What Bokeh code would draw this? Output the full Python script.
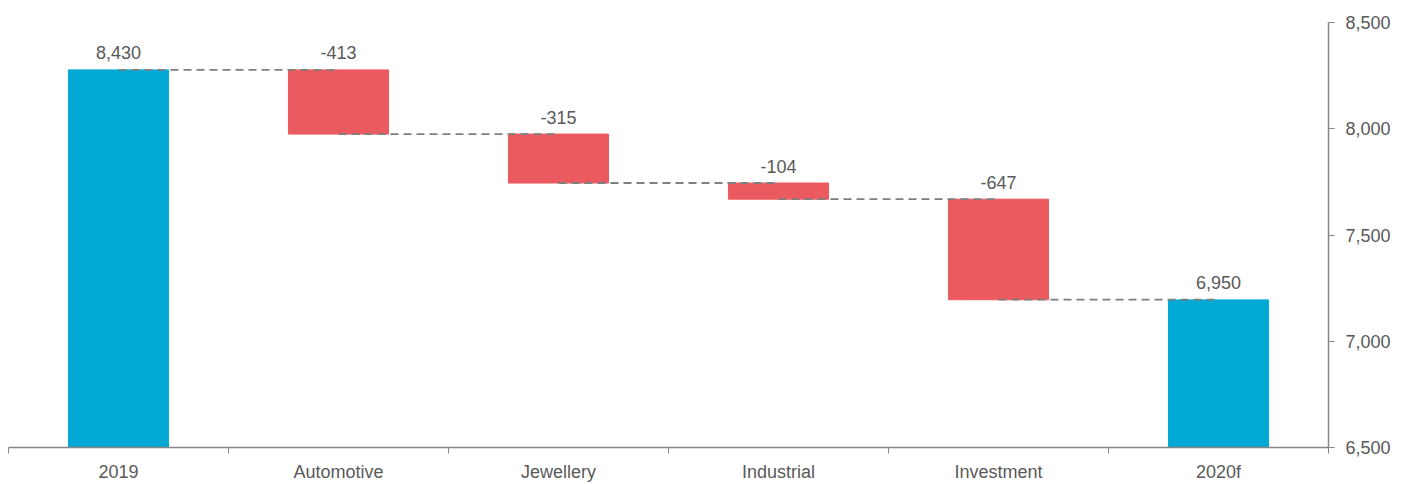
import numpy as np
from bokeh.plotting import figure
from bokeh.models import Range1d, LinearAxis, FixedTicker, NumeralTickFormatter, ColumnDataSource
from bokeh.core.properties import value
from bokeh.embed import file_html
from bokeh.resources import INLINE

# ---- data ----
categories = ["2019", "Automotive", "Jewellery", "Industrial", "Investment", "2020f"]
start_total = 8430
changes = [-413, -315, -104, -647]
end_total = 6950
axis_ticks = [6500, 7000, 7500, 8000, 8500]

BLUE = "#03A9D5"
RED = "#EB5A5F"
GREEN = "#70AD47"
GRAY_TXT = "#595959"
GRAY_AX = "#868686"
FONT = "Liberation Sans"

n = len(categories)
xs = np.arange(n) + 0.5

tops, bottoms, colors, labels = [], [], [], []
level = start_total
tops.append(start_total); bottoms.append(0); colors.append(BLUE); labels.append(f"{start_total:,}")
levels = [level]
for c in changes:
    new = level + c
    tops.append(max(level, new)); bottoms.append(min(level, new))
    colors.append(RED if c < 0 else GREEN); labels.append(f"{c:,}")
    level = new
    levels.append(level)
tops.append(end_total); bottoms.append(0); colors.append(BLUE); labels.append(f"{end_total:,}")

src = ColumnDataSource(dict(x=xs, top=tops, bottom=bottoms, color=colors, label=labels))
con = ColumnDataSource(dict(x0=xs[:-1], x1=xs[1:], y=levels))

p = figure(width=1410, height=484, output_backend="svg", toolbar_location=None,
           x_range=Range1d(0, n), y_range=Range1d(6000, 8735),
           y_axis_location=None, min_border_left=8, min_border_right=82,
           min_border_top=22, min_border_bottom=35)
p.extra_y_ranges = {"sec": Range1d(axis_ticks[0], axis_ticks[-1])}
p.outline_line_color = None
p.xgrid.visible = False
p.ygrid.visible = False
p.background_fill_color = "white"
p.border_fill_color = "white"

p.vbar(x="x", top="top", bottom="bottom", width=0.455, color="color", source=src)
p.segment(x0="x0", x1="x1", y0="y", y1="y", source=con, line_color="#7F7F7F",
          line_width=1.8, line_dash="8 5")
p.text(x="x", y="top", text="label", source=src, text_align="center",
       text_baseline="alphabetic", y_offset=-17, text_font=value(FONT),
       text_font_size="18px", text_color=GRAY_TXT)

xa = p.xaxis[0]
xa.ticker = FixedTicker(ticks=list(xs), minor_ticks=list(range(n + 1)))
xa.major_label_overrides = {float(x): c for x, c in zip(xs, categories)}
xa.major_tick_out = 0
xa.major_tick_in = 0
xa.minor_tick_out = 6
xa.minor_tick_in = 0
xa.minor_tick_line_color = GRAY_AX
xa.axis_line_color = GRAY_AX
xa.axis_line_width = 1.5
xa.major_label_standoff = 8
xa.major_label_text_font = FONT
xa.major_label_text_font_size = "18px"
xa.major_label_text_color = GRAY_TXT

ya = LinearAxis(y_range_name="sec", ticker=FixedTicker(ticks=axis_ticks),
                formatter=NumeralTickFormatter(format="0,0"))
ya.major_tick_out = 6
ya.major_tick_in = 0
ya.minor_tick_out = 0
ya.minor_tick_in = 0
ya.major_tick_line_color = GRAY_AX
ya.axis_line_color = GRAY_AX
ya.axis_line_width = 1.5
ya.major_label_standoff = 11
ya.major_label_text_font = FONT
ya.major_label_text_font_size = "18px"
ya.major_label_text_color = GRAY_TXT
p.add_layout(ya, "right")

open("out.html", "w").write(file_html(p, INLINE))
